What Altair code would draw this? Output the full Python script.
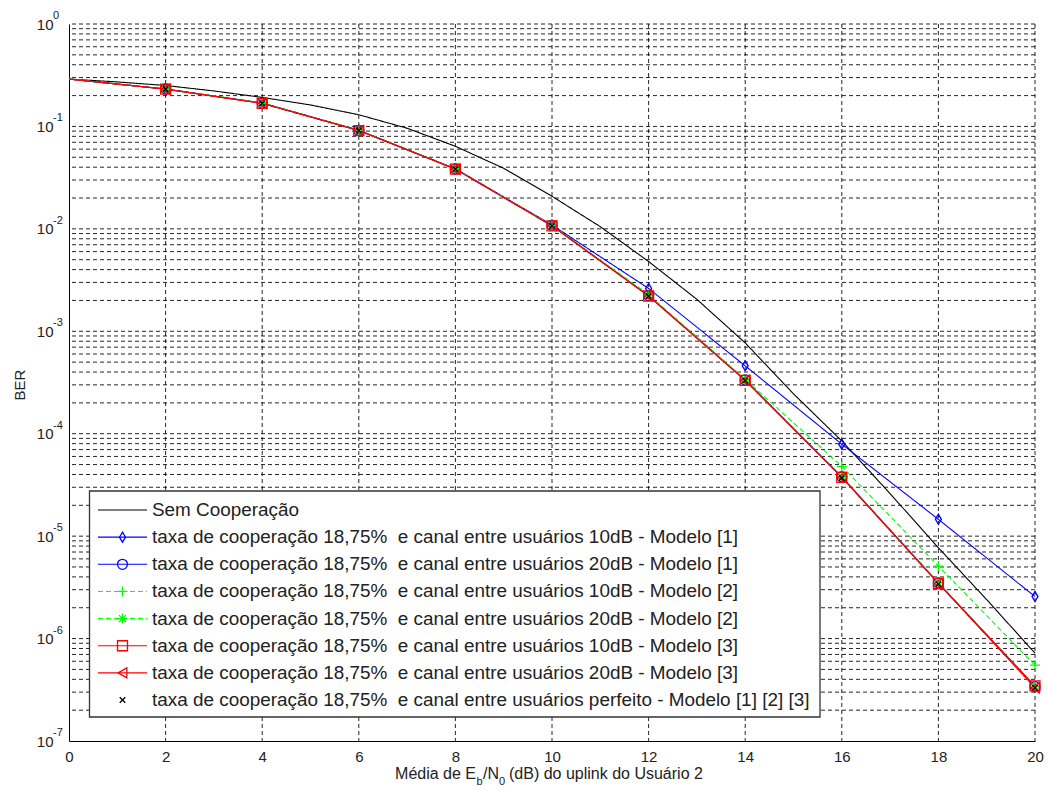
import altair as alt
import pandas as pd

# ---------------- data ----------------
x_markers = [0, 2, 4, 6, 8, 10, 12, 14, 16, 18, 20]
x_sem = [0, 1, 2, 3, 4, 5, 6, 7, 8, 9, 10, 11, 12, 13, 14, 15, 16, 17, 18, 19, 20]

ber_sem = [0.29, 0.272, 0.251, 0.222, 0.192, 0.162, 0.130, 0.096, 0.064, 0.039,
           0.0208, 0.0105, 4.8e-3, 2.05e-3, 7.7e-4, 2.45e-4, 8.5e-5, 2.6e-5,
           7.7e-6, 2.4e-6, 7.2e-7]
ber_m1_10 = [0.29, 0.232, 0.169, 0.0918, 0.0386, 0.0109, 2.62e-3, 4.6e-4, 7.9e-5, 1.46e-5, 2.57e-6]
ber_m1_20 = [0.29, 0.232, 0.169, 0.0915, 0.0385, 0.0108, 2.23e-3, 3.35e-4, 3.8e-5, 3.5e-6, 3.4e-7]
ber_m2_10 = [0.29, 0.232, 0.169, 0.0916, 0.0386, 0.0108, 2.28e-3, 3.4e-4, 4.8e-5, 5.1e-6, 5.5e-7]
ber_m2_20 = [0.29, 0.232, 0.169, 0.0915, 0.0385, 0.0108, 2.23e-3, 3.34e-4, 3.8e-5, 3.5e-6, 3.4e-7]
ber_m3_10 = [0.29, 0.231, 0.168, 0.0912, 0.0383, 0.0107, 2.21e-3, 3.32e-4, 3.75e-5, 3.45e-6, 3.45e-7]
ber_m3_20 = [0.29, 0.231, 0.168, 0.0912, 0.0383, 0.0107, 2.21e-3, 3.32e-4, 3.75e-5, 3.45e-6, 3.3e-7]
ber_perf = [0.29, 0.231, 0.168, 0.0912, 0.0383, 0.0107, 2.2e-3, 3.3e-4, 3.7e-5, 3.4e-6, 3.3e-7]

series_ids = ["sem", "m1_10", "m1_20", "m2_10", "m2_20", "m3_10", "m3_20", "perf"]
series_labels = [
    "Sem Cooperação",
    "taxa de cooperação 18,75%\u00a0 e canal entre usuários 10dB - Modelo [1]",
    "taxa de cooperação 18,75%\u00a0 e canal entre usuários 20dB - Modelo [1]",
    "taxa de cooperação 18,75%\u00a0 e canal entre usuários 10dB - Modelo [2]",
    "taxa de cooperação 18,75%\u00a0 e canal entre usuários 20dB - Modelo [2]",
    "taxa de cooperação 18,75%\u00a0 e canal entre usuários 10dB - Modelo [3]",
    "taxa de cooperação 18,75%\u00a0 e canal entre usuários 20dB - Modelo [3]",
    "taxa de cooperação 18,75%\u00a0 e canal entre usuários perfeito - Modelo [1] [2] [3]",
]
series_colors = ["#000000", "#0000ff", "#0000ff", "#00ff00", "#00ff00", "#ff0000", "#ff0000", "#000000"]
series_dashes = [[1, 0], [1, 0], [1, 0], [5, 3], [5, 3], [1, 0], [1, 0], [1, 0]]
series_widths = [1.1, 1.1, 1.1, 1.1, 1.1, 1.7, 1.7, 1.1]
series_shapes = [
    "circle",
    "M0,-1L0.6,0L0,1L-0.6,0Z",
    "circle",
    "M-1,0L1,0M0,-1L0,1",
    "M-1,0L1,0M0,-1L0,1M-0.7,-0.7L0.7,0.7M-0.7,0.7L0.7,-0.7",
    "square",
    "triangle-left",
    "M-0.55,-0.55L0.55,0.55M-0.55,0.55L0.55,-0.55",
]
has_line = [True, True, True, True, True, True, True, False]
has_marker = [False, True, True, True, True, True, True, True]

y_tick_vals = [1e-7, 1e-6, 1e-5, 1e-4, 1e-3, 1e-2, 1e-1, 1]
y_tick_exps = ["-7", "-6", "-5", "-4", "-3", "-2", "-1", "0"]
x_tick_vals = [0, 2, 4, 6, 8, 10, 12, 14, 16, 18, 20]

# ---------------- tables ----------------
marker_series = {"m1_10": ber_m1_10, "m1_20": ber_m1_20, "m2_10": ber_m2_10, "m2_20": ber_m2_20,
                 "m3_10": ber_m3_10, "m3_20": ber_m3_20, "perf": ber_perf}

line_rows = [{"series": "sem", "x": x, "ber": b} for x, b in zip(x_sem, ber_sem)]
pt_rows = []
for sid, vals in marker_series.items():
    i = series_ids.index(sid)
    for x, b in zip(x_markers, vals):
        if has_line[i]:
            line_rows.append({"series": sid, "x": x, "ber": b})
        if x > 0:
            pt_rows.append({"series": sid, "x": x, "ber": b})
lines_df = pd.DataFrame(line_rows)
pts_df = pd.DataFrame(pt_rows)

ygrid_df = pd.DataFrame({"y": [m * 10.0 ** e for e in range(-7, 0) for m in range(1, 10) if not (e == -7 and m == 1)] + [1.0]})
xgrid_df = pd.DataFrame({"x": x_tick_vals[1:]})
exp_df = pd.DataFrame({"y": y_tick_vals, "e": y_tick_exps})
leg_df = pd.DataFrame({"series": series_ids, "label": series_labels, "row": list(range(len(series_ids))),
                       "line": has_line, "marker": has_marker})

FONT = "Liberation Sans"
W, H = 966, 717

x_scale = alt.Scale(domain=[0, 20], nice=False, zero=False)
y_scale = alt.Scale(type="log", domain=[1e-7, 1], nice=False)
color_scale = alt.Scale(domain=series_ids, range=series_colors)
dash_scale = alt.Scale(domain=series_ids, range=series_dashes)
width_scale = alt.Scale(domain=series_ids, range=series_widths)
shape_scale = alt.Scale(domain=series_ids, range=series_shapes)

grid_style = dict(color="#000000", strokeWidth=1, strokeDash=[4, 3], opacity=0.85)

ygrid = alt.Chart(ygrid_df).mark_rule(**grid_style).encode(
    y=alt.Y("y:Q", scale=y_scale,
            axis=alt.Axis(values=y_tick_vals, labelExpr="'10'", grid=False, ticks=False,
                          labelFontSize=15, labelPadding=16, labelFont=FONT, labelColor="#222",
                          domainColor="#000", title=None))
)
xgrid = alt.Chart(xgrid_df).mark_rule(**grid_style).encode(
    x=alt.X("x:Q", scale=x_scale,
            axis=alt.Axis(values=x_tick_vals, grid=False, ticks=False, labelFontSize=15,
                          labelPadding=8, labelFont=FONT, labelColor="#222", domainColor="#000",
                          title=None, labelFlush=False))
)

lines = alt.Chart(lines_df).mark_line().encode(
    x=alt.X("x:Q", scale=x_scale),
    y=alt.Y("ber:Q", scale=y_scale),
    color=alt.Color("series:N", scale=color_scale, legend=None),
    strokeDash=alt.StrokeDash("series:N", scale=dash_scale, legend=None),
    strokeWidth=alt.StrokeWidth("series:N", scale=width_scale, legend=None),
    detail="series:N",
)

points = alt.Chart(pts_df).mark_point(filled=False, size=100, strokeWidth=1.3, opacity=1).encode(
    x=alt.X("x:Q", scale=x_scale),
    y=alt.Y("ber:Q", scale=y_scale),
    color=alt.Color("series:N", scale=color_scale, legend=None),
    shape=alt.Shape("series:N", scale=shape_scale, legend=None),
)

exps = alt.Chart(exp_df).mark_text(align="left", baseline="middle", fontSize=11, font=FONT,
                                   color="#222", dy=-8).encode(
    x=alt.value(-16),
    y=alt.Y("y:Q", scale=y_scale),
    text="e:N",
)

# ---------------- legend (drawn inside the axes like the original) ----------------
leg_box = alt.Chart(alt.Data(values=[{"a": 1}])).mark_rect(
    fill="white", stroke="#333333", strokeWidth=1.3).encode(
    x=alt.value(20.5), x2=alt.value(751), y=alt.value(467), y2=alt.value(693))

leg_base = alt.Chart(leg_df).transform_calculate(ly="486 + 27.15 * datum.row")

leg_lines = leg_base.transform_filter("datum.line").mark_rule().encode(
    x=alt.value(29), x2=alt.value(78),
    y=alt.Y("ly:Q", scale=None),
    color=alt.Color("series:N", scale=color_scale, legend=None),
    strokeDash=alt.StrokeDash("series:N", scale=dash_scale, legend=None),
    strokeWidth=alt.StrokeWidth("series:N", scale=width_scale, legend=None),
)
leg_marks = leg_base.transform_filter("datum.marker").mark_point(
    filled=False, size=100, strokeWidth=1.3, opacity=1).encode(
    x=alt.value(53.5),
    y=alt.Y("ly:Q", scale=None),
    color=alt.Color("series:N", scale=color_scale, legend=None),
    shape=alt.Shape("series:N", scale=shape_scale, legend=None),
)
leg_text = leg_base.mark_text(align="left", baseline="middle", fontSize=18.9, font=FONT,
                              color="#222").encode(
    x=alt.value(83),
    y=alt.Y("ly:Q", scale=None),
    text="label:N",
)

# ---------------- axis titles ----------------
one = alt.Data(values=[{"a": 1}])
ttl_style = dict(font=FONT, color="#222", baseline="alphabetic")
t1 = alt.Chart(one).mark_text(align="right", fontSize=16, text="Média de E", **ttl_style).encode(
    x=alt.value(407), y=alt.value(755))
t2 = alt.Chart(one).mark_text(align="left", fontSize=11, text="b", **ttl_style).encode(
    x=alt.value(407.5), y=alt.value(761))
t3 = alt.Chart(one).mark_text(align="left", fontSize=16, text="/N", **ttl_style).encode(
    x=alt.value(414), y=alt.value(755))
t4 = alt.Chart(one).mark_text(align="left", fontSize=11, text="0", **ttl_style).encode(
    x=alt.value(430), y=alt.value(761))
t5 = alt.Chart(one).mark_text(align="left", fontSize=16, text="(dB) do uplink do Usuário 2",
                              **ttl_style).encode(
    x=alt.value(440), y=alt.value(755))
ytitle = alt.Chart(one).mark_text(align="center", baseline="middle", fontSize=15, angle=270,
                                  text="BER", font=FONT, color="#222").encode(
    x=alt.value(-49), y=alt.value(361))

chart = alt.layer(
    ygrid, xgrid, lines, points, exps,
    leg_box, leg_lines, leg_marks, leg_text,
    t1, t2, t3, t4, t5, ytitle,
).properties(
    width=W, height=H,
    autosize=alt.AutoSizeParams(type="none"),
    padding={"left": 69, "top": 24, "right": 13, "bottom": 51},
    background="white",
).configure_view(stroke=None)

chart.save("out.html", embed_options={"renderer": "svg", "actions": False})
